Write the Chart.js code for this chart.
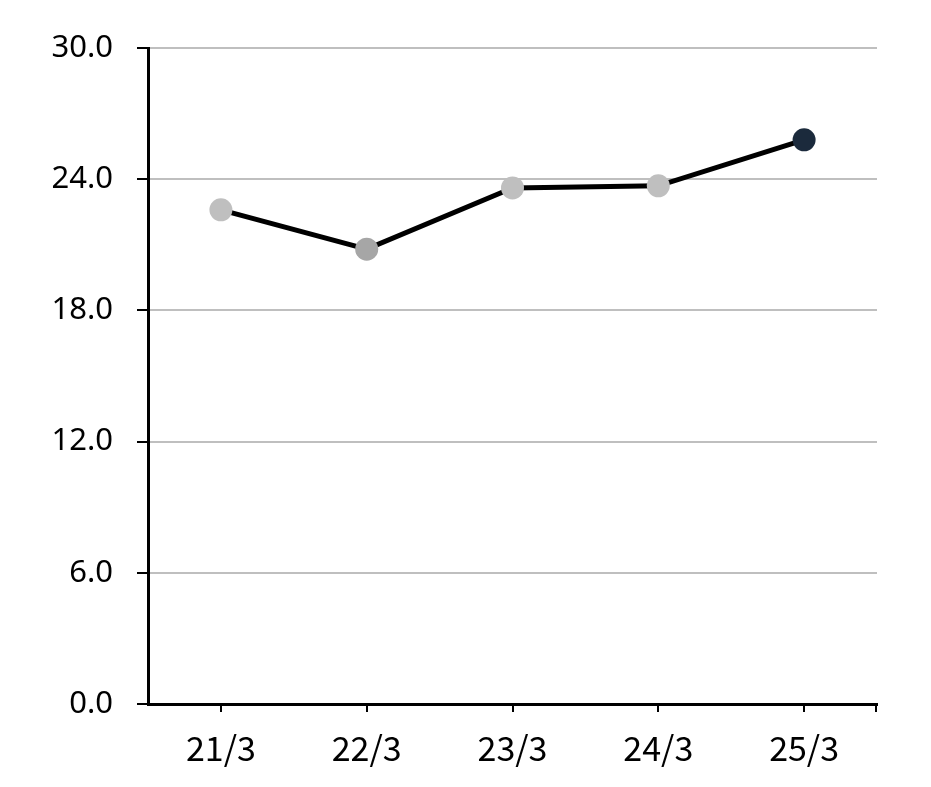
<!DOCTYPE html>
<html><head><meta charset="utf-8">
<script src="https://cdn.jsdelivr.net/npm/chart.js@4/dist/chart.umd.min.js"></script>
<style>html,body{margin:0;padding:0;background:#fff}#wrap{width:931px;height:787px}</style>
</head><body><div id="wrap"><canvas id="c" width="931" height="787"></canvas></div>
<script>
const categories = ["21/3", "22/3", "23/3", "24/3", "25/3"];
const values = [22.6, 20.8, 23.6, 23.7, 25.8];
const pointColors = ["#BFBFBF", "#A6A6A6", "#BFBFBF", "#BFBFBF", "#1B2A3C"];
const yTicks = [0, 6, 12, 18, 24, 30];

const endTick = {
  id: 'endTick',
  afterDraw(chart) {
    const ctx = chart.ctx, a = chart.chartArea;
    ctx.save();
    ctx.strokeStyle = '#000'; ctx.lineWidth = 2;
    ctx.beginPath(); ctx.moveTo(a.right - 1, a.bottom); ctx.lineTo(a.right - 1, a.bottom + 8); ctx.stroke();
    ctx.restore();
  }
};

new Chart(document.getElementById('c'), {
  type: 'line',
  data: {
    labels: categories,
    datasets: [{
      data: values,
      borderColor: '#000',
      borderWidth: 5,
      pointBackgroundColor: pointColors,
      pointBorderColor: pointColors,
      pointRadius: 11.5,
      pointBorderWidth: 0,
      tension: 0,
      clip: false
    }]
  },
  options: {
    responsive: false,
    animation: false,
    layout: { padding: { top: 48, right: 54, left: 0, bottom: 0 } },
    plugins: { legend: { display: false }, tooltip: { enabled: false } },
    scales: {
      x: {
        offset: true,
        grid: { offset: false, drawOnChartArea: false, tickLength: 8, tickColor: '#000', lineWidth: 2 },
        border: { color: '#000', width: 3 },
        ticks: { color: '#000', font: { family: '"Noto Sans CJK JP"', size: 34 }, padding: 16, maxRotation: 0 },
        afterFit(s) { s.height = 83; }
      },
      y: {
        min: 0, max: 30,
        afterBuildTicks(s) { s.ticks = yTicks.map(v => ({ value: v })); },
        grid: { color: '#BFBFBF', lineWidth: 2, tickLength: 11, tickColor: '#000' },
        border: { color: '#000', width: 3 },
        ticks: { color: '#000', font: { family: '"Noto Sans"', size: 31 }, padding: 24, callback: v => Number(v).toFixed(1) },
        afterFit(s) { s.width = 148; }
      }
    }
  },
  plugins: [endTick]
});
</script></body></html>
